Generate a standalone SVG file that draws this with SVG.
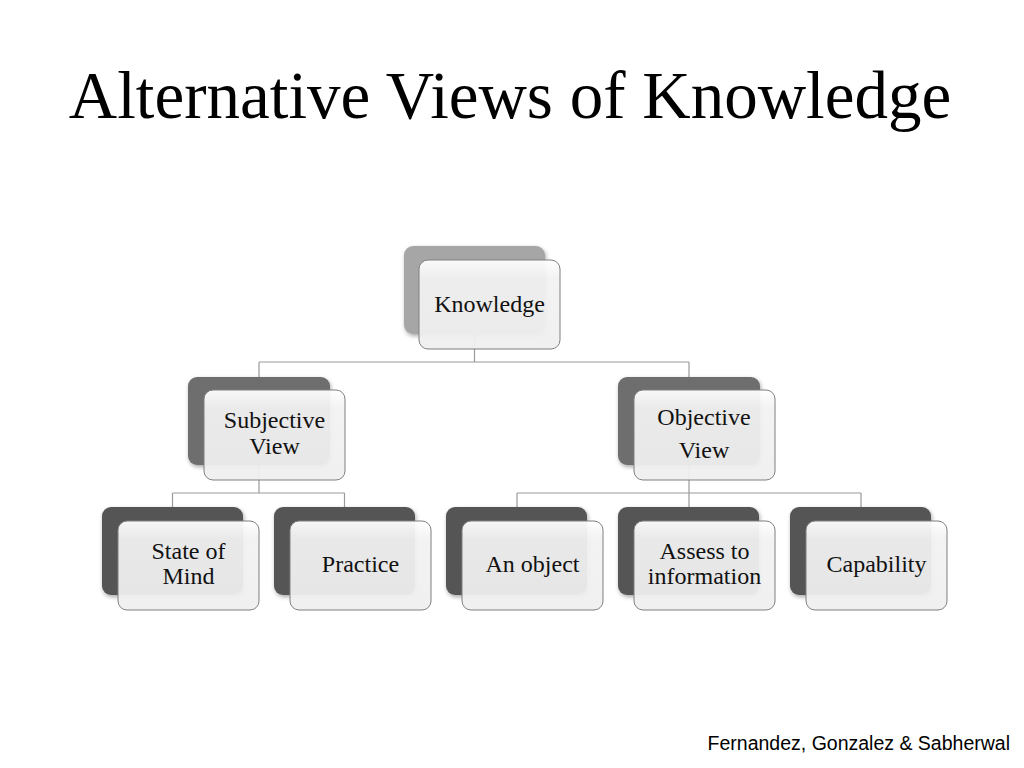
<svg xmlns="http://www.w3.org/2000/svg" width="1024" height="768" viewBox="0 0 1024 768">
<defs>
<linearGradient id="gf" x1="0" y1="0" x2="0" y2="1">
<stop offset="0" stop-color="#ffffff" stop-opacity="0.95"/>
<stop offset="0.2" stop-color="#f2f2f2" stop-opacity="0.94"/>
<stop offset="1" stop-color="#efefef" stop-opacity="0.94"/>
</linearGradient>
<filter id="sh" x="-10%" y="-10%" width="130%" height="130%">
<feGaussianBlur in="SourceAlpha" stdDeviation="2"/>
<feOffset dx="1" dy="2"/>
<feComponentTransfer><feFuncA type="linear" slope="0.35"/></feComponentTransfer>
<feMerge><feMergeNode/><feMergeNode in="SourceGraphic"/></feMerge>
</filter>
</defs>
<style>
.title{font-family:"Liberation Serif","Times New Roman",serif;font-size:67px;fill:#000}
.lbl{font-family:"Liberation Serif","Times New Roman",serif;font-size:24px;fill:#111;text-anchor:middle}
.foot{font-family:"Liberation Sans",Arial,sans-serif;font-size:19.5px;fill:#000;text-anchor:end}
.back1{fill:#a6a6a6}
.back2{fill:#6e6e6e}
.back3{fill:#555555}
.front{fill:url(#gf);stroke:#7f7f7f;stroke-width:1}
.conn{fill:none;stroke:#9a9a9a;stroke-width:1.2}
</style>
<rect width="1024" height="768" fill="#ffffff"/>
<text class="title" x="510" y="118" text-anchor="middle">Alternative Views of Knowledge</text>
<g id="connectors">
<path class="conn" d="M474.5,333 V362 M259,362 H689 M259,362 V377 M689,362 V377"/>
<path class="conn" d="M259,465 V493 M172.5,493 H344.5 M172.5,493 V507 M344.5,493 V507"/>
<path class="conn" d="M689,465 V493 M517,493 H861 M517,493 V507 M689,493 V507 M861,493 V507"/>
</g>
<g id="knowledge">
<rect class="back1" x="404" y="246" width="141" height="88" rx="9" filter="url(#sh)"/>
<rect class="front" x="419" y="260" width="141" height="89" rx="9"/>
<text class="lbl" x="489.5" y="312">Knowledge</text>
</g>
<g id="subjective">
<rect class="back2" x="188" y="377" width="142" height="88" rx="9" filter="url(#sh)"/>
<rect class="front" x="204" y="390" width="141" height="90" rx="9"/>
<text class="lbl" x="274.5" y="428">Subjective</text>
<text class="lbl" x="274.5" y="454">View</text>
</g>
<g id="objective">
<rect class="back2" x="618" y="377" width="142" height="88" rx="9" filter="url(#sh)"/>
<rect class="front" x="634" y="390" width="141" height="90" rx="9"/>
<text class="lbl" x="704" y="425">Objective</text>
<text class="lbl" x="704" y="458">View</text>
</g>
<g id="state-of-mind">
<rect class="back3" x="102" y="507" width="141" height="88" rx="9" filter="url(#sh)"/>
<rect class="front" x="118" y="521" width="141" height="89" rx="9"/>
<text class="lbl" x="188.5" y="559">State of</text>
<text class="lbl" x="188.5" y="584">Mind</text>
</g>
<g id="practice">
<rect class="back3" x="274" y="507" width="141" height="88" rx="9" filter="url(#sh)"/>
<rect class="front" x="290" y="521" width="141" height="89" rx="9"/>
<text class="lbl" x="360.5" y="572">Practice</text>
</g>
<g id="an-object">
<rect class="back3" x="446" y="507" width="141" height="88" rx="9" filter="url(#sh)"/>
<rect class="front" x="462" y="521" width="141" height="89" rx="9"/>
<text class="lbl" x="532.5" y="572">An object</text>
</g>
<g id="assess">
<rect class="back3" x="618" y="507" width="141" height="88" rx="9" filter="url(#sh)"/>
<rect class="front" x="634" y="521" width="141" height="89" rx="9"/>
<text class="lbl" x="704.5" y="559">Assess to</text>
<text class="lbl" x="704.5" y="584">information</text>
</g>
<g id="capability">
<rect class="back3" x="790" y="507" width="141" height="88" rx="9" filter="url(#sh)"/>
<rect class="front" x="806" y="521" width="141" height="89" rx="9"/>
<text class="lbl" x="876.5" y="572">Capability</text>
</g>
<text class="foot" x="1010" y="750">Fernandez, Gonzalez &amp; Sabherwal</text>
</svg>
